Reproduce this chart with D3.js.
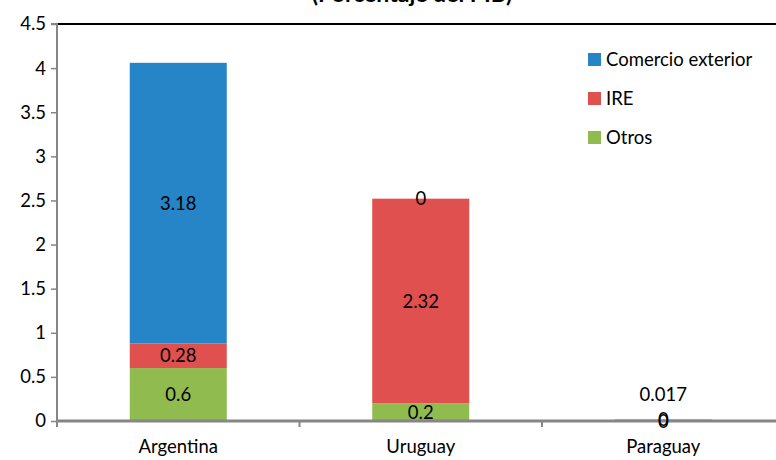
<!DOCTYPE html>
<html><head><meta charset="utf-8">
<script src="https://cdn.jsdelivr.net/npm/d3@7"></script>
<style>body{margin:0;background:#fff}svg{display:block;font-family:Lato,"Open Sans",sans-serif}</style>
</head><body><svg id="c" width="776" height="460"></svg>
<script>
const categories = ["Argentina", "Uruguay", "Paraguay"];
const seriesNames = ["Otros", "IRE", "Comercio exterior"];
const otros = [0.6, 0.2, 0];
const ire = [0.28, 2.32, 0.017];
const comercio = [3.18, 0, 0];
const yTicks = [0, 0.5, 1, 1.5, 2, 2.5, 3, 3.5, 4, 4.5];
const colors = ["#8fbb4f", "#e0504f", "#2585c7"];
const title = "(Porcentaje del PIB)";

const FS = 18.5;
const svg = d3.select("#c");
const x0 = 57, plotW = 727.5, yTop = 24, yBot = 421;
const x = d3.scaleBand().domain(categories).range([x0, x0 + plotW]).paddingInner(0.6).paddingOuter(0.3);
const xc = d3.scaleBand().domain(categories).range([x0, x0 + plotW]);
const y = d3.scaleLinear().domain([0, 4.5]).range([yBot, yTop]);

const rows = categories.map((c, i) => ({cat: c, Otros: otros[i], IRE: ire[i], "Comercio exterior": comercio[i]}));
const stack = d3.stack().keys(seriesNames)(rows);

// title (mostly cut off at top, as in the reference)
svg.append("text").attr("x", 412).attr("y", 1.5).attr("text-anchor", "middle")
  .attr("font-size", 23).attr("font-weight", "bold").attr("fill", "#000").text(title);

// top border line
svg.append("line").attr("x1", x0).attr("x2", 776).attr("y1", yTop).attr("y2", yTop)
  .attr("stroke", "#000").attr("stroke-width", 2);

// bars
stack.forEach((s, si) => {
  svg.append("g").selectAll("rect").data(s).join("rect")
    .attr("x", d => x(d.data.cat)).attr("width", x.bandwidth())
    .attr("y", d => y(d[1])).attr("height", d => y(d[0]) - y(d[1]))
    .attr("fill", colors[si]);
});

// y axis
const ya = svg.append("g").attr("transform", `translate(${x0},0)`)
  .call(d3.axisLeft(y).tickValues(yTicks).tickSize(6).tickPadding(5).tickFormat(d3.format("")));
ya.select(".domain").attr("stroke", "#868686").attr("stroke-width", 2).attr("d", `M-6,${yTop}H0V${yBot}`);
ya.selectAll(".tick line").attr("stroke", "#868686").attr("stroke-width", 1.5);
ya.selectAll(".tick text").attr("font-size", FS).attr("fill", "#000").attr("font-family", "Lato, 'Open Sans', sans-serif");

// x axis
const xa = svg.append("g").attr("transform", `translate(0,${yBot})`)
  .call(d3.axisBottom(x).tickSize(0).tickPadding(19));
xa.select(".domain").attr("stroke", "#868686").attr("stroke-width", 3).attr("d", `M${x0},0H776`);
xa.selectAll(".tick text").attr("font-size", FS).attr("fill", "#000").attr("font-family", "Lato, 'Open Sans', sans-serif");
svg.append("g").selectAll("line").data(categories).join("line")
  .attr("x1", d => xc(d)).attr("x2", d => xc(d)).attr("y1", yBot).attr("y2", yBot + 6)
  .attr("stroke", "#868686").attr("stroke-width", 2);

// data labels
stack.forEach((s, si) => {
  svg.append("g").selectAll("text").data(s).join("text")
    .attr("x", d => x(d.data.cat) + x.bandwidth() / 2)
    .attr("y", d => {
      const v = d[1] - d[0];
      if (seriesNames[si] === "IRE" && v > 0 && v < 0.05) return y(d[1]) - 25;
      return (y(d[0]) + y(d[1])) / 2;
    })
    .attr("dy", "0.36em").attr("text-anchor", "middle")
    .attr("font-size", FS).attr("fill", "#000")
    .text(d => d3.format("")(+(d[1] - d[0]).toFixed(3)));
});

// legend
const legend = svg.append("g");
const legItems = ["Comercio exterior", "IRE", "Otros"];
legItems.forEach((n, i) => {
  const ly = 59.5 + i * 39;
  legend.append("rect").attr("x", 588).attr("y", ly - 6.5).attr("width", 13).attr("height", 13)
    .attr("fill", colors[seriesNames.indexOf(n)]);
  legend.append("text").attr("x", 606).attr("y", ly).attr("dy", "0.36em")
    .attr("font-size", FS).attr("fill", "#000").text(n);
});
</script></body></html>
